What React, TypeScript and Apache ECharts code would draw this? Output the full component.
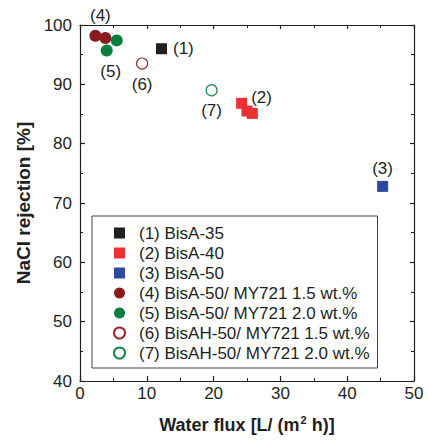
import React, { useEffect, useRef } from "react";
import * as echarts from "echarts";

const seriesNames = [
  "(1) BisA-35",
  "(2) BisA-40",
  "(3) BisA-50",
  "(4) BisA-50/ MY721 1.5 wt.%",
  "(5) BisA-50/ MY721 2.0 wt.%",
  "(6) BisAH-50/ MY721 1.5 wt.%",
  "(7) BisAH-50/ MY721 2.0 wt.%",
];
const shortLabels = ["(1)", "(2)", "(3)", "(4)", "(5)", "(6)", "(7)"];

const flux1 = [12.2];
const rej1 = [96.0];
const flux2 = [24.2, 25.0, 25.8];
const rej2 = [86.8, 85.5, 85.1];
const flux3 = [45.3];
const rej3 = [72.8];
const flux4 = [2.3, 3.8];
const rej4 = [98.2, 97.8];
const flux5 = [5.5, 4.0];
const rej5 = [97.4, 95.7];
const flux6 = [9.3];
const rej6 = [93.5];
const flux7 = [19.7];
const rej7 = [89.0];

const xTicks = [0, 10, 20, 30, 40, 50];
const yTicks = [40, 50, 60, 70, 80, 90, 100];

const TXT = "#231f20";
const FONT = "'Liberation Sans', Arial, sans-serif";

export default function App() {
  const ref = useRef<HTMLDivElement>(null);
  useEffect(() => {
    if (!ref.current) return;
    const chart = echarts.init(ref.current, null, { renderer: "svg" });
    const zip = (xs: number[], ys: number[]) => xs.map((x, i) => [x, ys[i]]);

    const labelCfg = (idx: number, position: any, distance: number, offset: number[] = [0, 0]) => ({
      show: true,
      formatter: shortLabels[idx],
      position,
      distance,
      offset,
      color: TXT,
      fontSize: 17,
      fontFamily: FONT,
    });

    const mk = (
      idx: number,
      xs: number[],
      ys: number[],
      symbol: string,
      size: number,
      style: any,
      labelPoint: number,
      label: any
    ) => ({
      type: "scatter",
      name: seriesNames[idx],
      symbol,
      symbolSize: size,
      itemStyle: { opacity: 1, ...style },
      xAxisIndex: 0,
      yAxisIndex: 0,
      z: 3,
      data: zip(xs, ys).map((v, i) =>
        i === labelPoint ? { value: v, label } : { value: v, label: { show: false } }
      ),
    });

    const series = [
      mk(0, flux1, rej1, "rect", 11, { color: TXT }, 0, labelCfg(0, "right", 6)),
      mk(1, flux2, rej2, "rect", 11, { color: "#ee2f33" }, 0, labelCfg(1, "right", 4, [0, -6])),
      mk(2, flux3, rej3, "rect", 11, { color: "#2c4b9e" }, 0, labelCfg(2, "top", 4)),
      mk(3, flux4, rej4, "circle", 12, { color: "#8b1a1e" }, 0, labelCfg(3, "top", 6, [5, 0])),
      mk(4, flux5, rej5, "circle", 12, { color: "#07803d" }, 1, labelCfg(4, "bottom", 6, [4, 0])),
      mk(5, flux6, rej6, "circle", 11, { color: "#ffffff", borderColor: "#a0262b", borderWidth: 1.2 }, 0, labelCfg(5, "bottom", 6)),
      mk(6, flux7, rej7, "circle", 11, { color: "#ffffff", borderColor: "#13874a", borderWidth: 1.2 }, 0, labelCfg(6, "bottom", 6)),
    ];

    const axisLineStyle = { color: TXT, width: 1.2 };
    chart.setOption({
      animation: false,
      backgroundColor: "#ffffff",
      textStyle: { fontFamily: FONT },
      grid: { left: 80, right: 14, top: 25, bottom: 61, containLabel: false },
      legend: {
        orient: "vertical",
        left: 92,
        top: 216,
        padding: [7, 8, 5, 21],
        itemWidth: 11,
        itemHeight: 11,
        itemGap: 0,
        borderColor: "#444",
        borderWidth: 1,
        data: seriesNames,
        textStyle: { fontSize: 17, color: TXT, fontFamily: FONT, lineHeight: 20, padding: [0, 0, 0, 9] },
      },
      xAxis: [
        {
          type: "value",
          min: xTicks[0],
          max: xTicks[xTicks.length - 1],
          interval: 10,
          position: "bottom",
          name: "{b|Water flux [L/ (m}{sup|2}{b| h)]}",
          nameLocation: "middle",
          nameGap: 33,
          nameTextStyle: {
            rich: {
              b: { fontSize: 18, fontWeight: "bold", color: TXT, fontFamily: FONT, lineHeight: 22 },
              sup: { fontSize: 11, fontWeight: "bold", color: TXT, fontFamily: FONT, verticalAlign: "top", lineHeight: 22, padding: [0, 0, 10, 1] },
            },
          },
          axisLine: { show: true, lineStyle: axisLineStyle },
          axisTick: { show: true, inside: true, length: 5, lineStyle: axisLineStyle },
          minorTick: { show: true, splitNumber: 2, length: 3, lineStyle: { color: TXT, width: 1 } },
          axisLabel: { fontSize: 17, color: TXT, margin: 4, fontFamily: FONT },
          splitLine: { show: false },
        },
        {
          type: "value",
          min: xTicks[0],
          max: xTicks[xTicks.length - 1],
          interval: 10,
          position: "top",
          axisLine: { show: true, onZero: false, lineStyle: axisLineStyle },
          axisTick: { show: true, inside: true, length: 4, lineStyle: axisLineStyle },
          minorTick: { show: true, splitNumber: 2, length: 3, lineStyle: { color: TXT, width: 1 } },
          axisLabel: { show: false },
          splitLine: { show: false },
        },
      ],
      yAxis: [
        {
          type: "value",
          min: yTicks[0],
          max: yTicks[yTicks.length - 1],
          interval: 10,
          position: "left",
          name: "NaCl rejection [%]",
          nameLocation: "middle",
          nameGap: 44,
          nameTextStyle: { fontSize: 19, fontWeight: "bold", color: TXT, fontFamily: FONT },
          axisLine: { show: true, lineStyle: axisLineStyle },
          axisTick: { show: true, inside: true, length: 5, lineStyle: axisLineStyle },
          minorTick: { show: true, splitNumber: 2, length: 3, lineStyle: { color: TXT, width: 1 } },
          axisLabel: { fontSize: 17, color: TXT, margin: 8, fontFamily: FONT },
          splitLine: { show: false },
        },
        {
          type: "value",
          min: yTicks[0],
          max: yTicks[yTicks.length - 1],
          interval: 10,
          position: "right",
          axisLine: { show: true, onZero: false, lineStyle: axisLineStyle },
          axisTick: { show: true, inside: true, length: 4, lineStyle: axisLineStyle },
          minorTick: { show: true, splitNumber: 2, length: 3, lineStyle: { color: TXT, width: 1 } },
          axisLabel: { show: false },
          splitLine: { show: false },
        },
      ],
      series,
    });
    return () => chart.dispose();
  }, []);
  return <div ref={ref} style={{ width: 428, height: 442, position: "absolute", left: 0, top: 0 }} />;
}
